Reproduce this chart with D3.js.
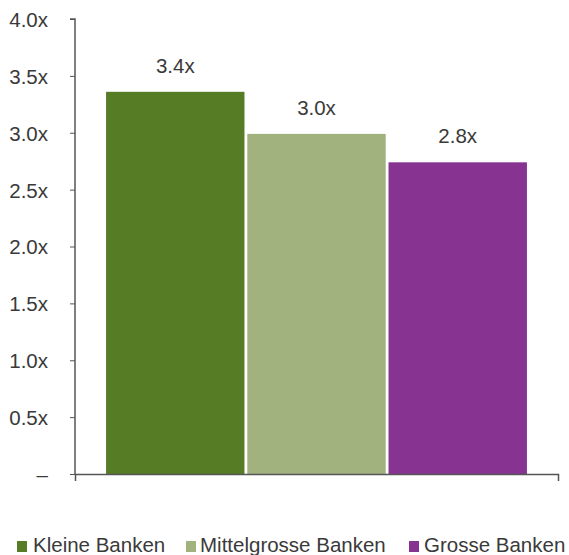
<!DOCTYPE html>
<html>
<head>
<meta charset="utf-8">
<script src="https://cdn.jsdelivr.net/npm/d3@7"></script>
<style>
  body { margin: 0; background: #fff; }
  text { font-family: "Liberation Sans", Arial, sans-serif; fill: #3a3a3a; }
</style>
</head>
<body>
<svg width="569" height="555"></svg>
<script>
// Data
const categories = ['Kleine Banken', 'Mittelgrosse Banken', 'Grosse Banken'];
const values = [3.36, 2.99, 2.74];
const valueLabels = ['3.4x', '3.0x', '2.8x'];
const colors = ['#567c26', '#a2b27f', '#863392'];
const yTicks = [0, 0.5, 1.0, 1.5, 2.0, 2.5, 3.0, 3.5, 4.0];

const svg = d3.select('svg');

// scales
const x = d3.scaleBand()
	.domain(categories)
	.range([75, 558])
	.paddingInner(0.02)
	.paddingOuter(0.22);

const y = d3.scaleLinear()
	.domain([0, 4])
	.range([474, 19]);

// y axis
const yAxis = svg.append('g')
	.attr('transform', 'translate(75,0)')
	.call(d3.axisLeft(y)
		.tickValues(yTicks)
		.tickSize(5)
		.tickPadding(22)
		.tickFormat((d) => (d === 0 ? '–' : d.toFixed(1) + 'x')));
yAxis.select('.domain').attr('stroke', '#555').attr('stroke-width', 1.5).attr('d', 'M-5,' + y(4) + 'H0V' + y(0));
yAxis.selectAll('.tick line').attr('stroke', '#555');
yAxis.selectAll('.tick text')
	.style('font-size', '20.5px')
	.style('fill', '#3a3a3a')
	.attr('font-family', null)
	.attr('dy', '0.36em');

// bars
svg.append('g')
	.selectAll('rect')
	.data(categories)
	.join('rect')
	.attr('x', (d) => x(d))
	.attr('width', x.bandwidth())
	.attr('y', (d, i) => y(values[i]))
	.attr('height', (d, i) => y(0) - y(values[i]))
	.attr('fill', (d, i) => colors[i]);

// value labels
svg.append('g')
	.selectAll('text')
	.data(categories)
	.join('text')
	.attr('x', (d) => x(d) + x.bandwidth() / 2)
	.attr('y', (d, i) => y(values[i]) - 19)
	.attr('text-anchor', 'middle')
	.style('font-size', '20.5px')
	.text((d, i) => valueLabels[i]);

// x axis (no labels, outer ticks pointing down)
const xAxis = svg.append('g')
	.attr('transform', 'translate(0,' + y(0) + ')')
	.call(d3.axisBottom(x).tickValues([]).tickSizeOuter(7));
xAxis.select('.domain').attr('stroke', '#555').attr('stroke-width', 1.5);

// legend
const legendSquareX = [17, 186, 409];
const legendTextX = [33, 200, 424];
const legend = svg.append('g')
	.selectAll('g')
	.data(categories)
	.join('g');
legend.append('rect')
	.attr('x', (d, i) => legendSquareX[i])
	.attr('y', 541)
	.attr('width', 10)
	.attr('height', 11)
	.attr('fill', (d, i) => colors[i]);
legend.append('text')
	.attr('x', (d, i) => legendTextX[i])
	.attr('y', 552)
	.style('font-size', '20.5px')
	.text((d) => d);
</script>
</body>
</html>
